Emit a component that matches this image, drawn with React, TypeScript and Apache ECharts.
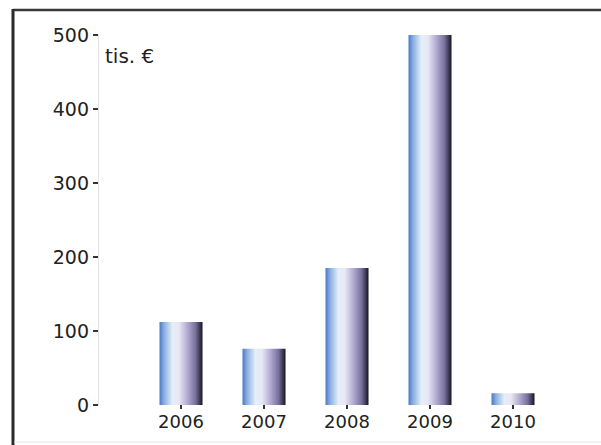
import React, { useEffect, useRef } from "react";
import * as echarts from "echarts";

const categories = ["", "2006", "2007", "2008", "2009", "2010", ""];
const values: (number | null)[] = [null, 112, 76, 185, 500, 16, null];
const yTicks = [0, 100, 200, 300, 400, 500];
const unitLabel = "tis. €";

export default function App() {
  const ref = useRef<HTMLDivElement>(null);
  useEffect(() => {
    if (!ref.current) return;
    const chart = echarts.init(ref.current, undefined, { renderer: "svg" });
    const barGradient = new echarts.graphic.LinearGradient(0, 0, 1, 0, [
      { offset: 0, color: "#4a78c8" },
      { offset: 0.1, color: "#86acdf" },
      { offset: 0.3, color: "#e4eff9" },
      { offset: 0.45, color: "#e8e8f4" },
      { offset: 0.65, color: "#b2aad2" },
      { offset: 0.84, color: "#77709a" },
      { offset: 0.95, color: "#35314a" },
      { offset: 1, color: "#16161c" },
    ]);
    chart.setOption({
      animation: false,
      backgroundColor: "#ffffff",
      textStyle: { fontFamily: "DejaVu Sans" },
      grid: { left: 98, right: 5, top: 35, bottom: 40, containLabel: false },
      xAxis: {
        type: "category",
        data: categories,
        boundaryGap: false,
        axisLine: { show: false },
        axisTick: {
          show: true,
          length: 4,
          interval: (i: number, v: string) => v !== "",
          lineStyle: { color: "#333", width: 2 },
        },
        axisLabel: {
          color: "#222",
          fontSize: 18,
          fontFamily: "DejaVu Sans",
          margin: 7,
          interval: 0,
        },
        splitLine: { show: false },
      },
      yAxis: {
        type: "value",
        min: yTicks[0],
        max: yTicks[yTicks.length - 1],
        interval: 100,
        axisLine: { show: true, lineStyle: { color: "#e2e2e2", width: 1 } },
        axisTick: { show: true, length: 5, lineStyle: { color: "#333", width: 2 } },
        axisLabel: {
          color: "#222",
          fontSize: 19,
          fontFamily: "DejaVu Sans",
          margin: 9,
        },
        splitLine: { show: false },
      },
      series: [
        {
          type: "bar",
          data: values,
          barWidth: 43,
          clip: false,
          itemStyle: { color: barGradient },
        },
      ],
      graphic: [
        {
          type: "line",
          shape: { x1: 13, y1: 10, x2: 601, y2: 10 },
          style: { stroke: "#3a3a3a", lineWidth: 2.5 },
        },
        {
          type: "line",
          shape: { x1: 13, y1: 9, x2: 13, y2: 445 },
          style: { stroke: "#2a2a2a", lineWidth: 3 },
        },
        {
          type: "line",
          shape: { x1: 14, y1: 442, x2: 601, y2: 442 },
          style: { stroke: "#e6e6e6", lineWidth: 1 },
        },
        {
          type: "text",
          left: 105,
          top: 46,
          style: {
            text: unitLabel,
            fill: "#222",
            font: "20px 'DejaVu Sans'",
          },
        },
      ],
    });
    return () => chart.dispose();
  }, []);
  return (
    <div
      ref={ref}
      style={{ position: "fixed", left: 0, top: 0, width: 601, height: 445 }}
    />
  );
}
